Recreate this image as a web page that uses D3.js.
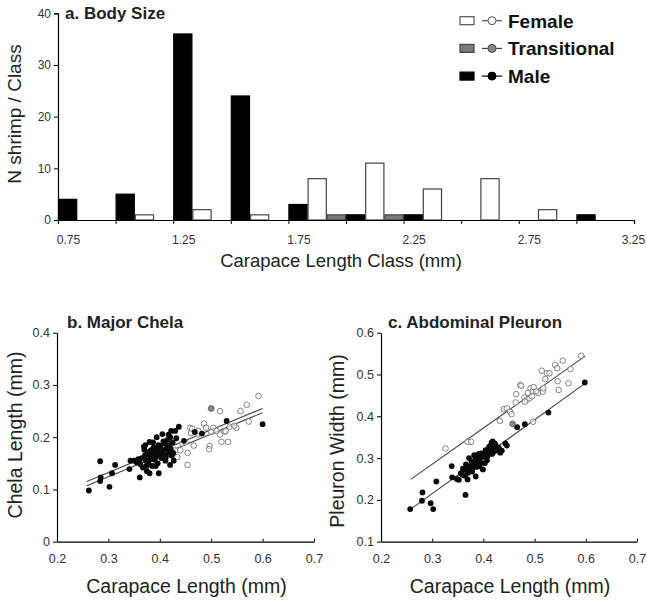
<!DOCTYPE html>
<html>
<head>
<meta charset="utf-8">
<script src="https://cdn.jsdelivr.net/npm/d3@7"></script>
<style>
  body { margin: 0; background: #fff; }
  svg { display: block; }
  text { font-family: "Liberation Sans", Arial, sans-serif; }
</style>
</head>
<body>
<svg id="chart" width="647" height="603"></svg>
<script>
// ---- data: a. body size histogram (N per carapace length class)
const classes = [0.75, 1.0, 1.25, 1.5, 1.75, 2.0, 2.25, 2.5, 2.75, 3.0];
const maleCounts = [4, 5, 36, 24, 3, 1, 1, 0, 0, 1];
const femaleCounts = [0, 1, 2, 1, 8, 11, 6, 8, 2, 0];
const transCounts = [0, 0, 0, 0, 1, 1, 0, 0, 0, 0];
const classTicks = [0.75, 1.0, 1.25, 1.5, 1.75, 2.0, 2.25, 2.5, 2.75, 3.0, 3.25];
const countTicks = [0, 10, 20, 30, 40];

// ---- data: b. major chela (carapace length, chela length)
const chelaMale = [
  [0.262,0.098],[0.284,0.154],[0.285,0.123],[0.284,0.116],[0.302,0.105],[0.307,0.131],[0.313,0.147],
  [0.341,0.139],[0.343,0.155],[0.35,0.155],[0.355,0.152],[0.358,0.158],[0.361,0.123],[0.362,0.148],
  [0.365,0.16],[0.367,0.142],[0.369,0.182],[0.37,0.176],[0.371,0.165],[0.373,0.155],[0.375,0.135],
  [0.376,0.17],[0.378,0.15],[0.38,0.191],[0.38,0.131],[0.381,0.162],[0.383,0.175],[0.385,0.145],
  [0.386,0.168],[0.388,0.18],[0.39,0.157],[0.391,0.172],[0.393,0.163],[0.395,0.178],[0.396,0.15],
  [0.398,0.131],[0.399,0.168],[0.401,0.183],[0.403,0.16],[0.405,0.206],[0.406,0.175],[0.408,0.165],
  [0.41,0.188],[0.411,0.155],[0.413,0.178],[0.415,0.195],[0.416,0.17],[0.418,0.185],[0.42,0.147],
  [0.42,0.2],[0.422,0.212],[0.423,0.165],[0.425,0.19],[0.427,0.155],[0.43,0.212],[0.432,0.198],
  [0.437,0.22],[0.447,0.193],[0.468,0.21],[0.482,0.207],[0.53,0.231],[0.6,0.225],
  [0.36,0.155],[0.368,0.16],[0.374,0.145],[0.379,0.172],[0.384,0.158],[0.387,0.19],[0.392,0.145],
  [0.397,0.185],[0.402,0.17],[0.407,0.192],[0.412,0.162],[0.417,0.205],[0.421,0.178],[0.426,0.17],
  [0.372,0.185],[0.394,0.2]
];
const chelaFemale = [
  [0.592,0.279],[0.569,0.262],[0.557,0.25],[0.517,0.25],[0.573,0.23],[0.549,0.218],[0.486,0.226],
  [0.49,0.218],[0.504,0.218],[0.459,0.218],[0.461,0.208],[0.474,0.205],[0.517,0.205],[0.526,0.21],
  [0.52,0.191],[0.533,0.191],[0.497,0.183],[0.496,0.177],[0.444,0.188],[0.466,0.184],[0.454,0.17],
  [0.434,0.162],[0.454,0.147],[0.536,0.22],[0.545,0.222],[0.475,0.212],[0.463,0.216],[0.51,0.212],
  [0.43,0.175],[0.44,0.175],[0.395,0.17],[0.385,0.165],[0.375,0.16],[0.415,0.18],[0.5,0.21],
  [0.528,0.212],[0.45,0.19]
];
const chelaTrans = [[0.5,0.255]];
const chelaFits = [
  [[0.258,0.115],[0.6,0.255]],
  [[0.258,0.107],[0.6,0.247]]
];

// ---- data: c. abdominal pleuron (carapace length, pleuron width)
const pleuronMale = [
  [0.257,0.178],[0.281,0.218],[0.28,0.198],[0.297,0.192],[0.302,0.178],[0.308,0.244],[0.338,0.281],
  [0.339,0.254],[0.348,0.25],[0.352,0.248],[0.356,0.264],[0.359,0.26],[0.362,0.272],[0.365,0.212],
  [0.367,0.279],[0.369,0.249],[0.37,0.265],[0.372,0.3],[0.375,0.273],[0.377,0.291],[0.38,0.283],
  [0.382,0.307],[0.385,0.256],[0.386,0.279],[0.388,0.291],[0.391,0.297],[0.391,0.31],[0.395,0.311],
  [0.396,0.288],[0.399,0.273],[0.401,0.303],[0.403,0.288],[0.404,0.319],[0.407,0.295],[0.411,0.327],
  [0.411,0.311],[0.416,0.337],[0.417,0.31],[0.419,0.323],[0.424,0.331],[0.427,0.318],[0.433,0.313],
  [0.443,0.335],[0.446,0.33],[0.466,0.374],[0.481,0.381],[0.527,0.409],[0.598,0.481],
  [0.36,0.275],[0.366,0.285],[0.371,0.268],[0.374,0.28],[0.378,0.268],[0.383,0.29],[0.387,0.3],
  [0.392,0.28],[0.394,0.3],[0.398,0.307],[0.405,0.31],[0.408,0.305],[0.41,0.318],[0.414,0.33],
  [0.418,0.34],[0.42,0.315],[0.422,0.335],[0.425,0.32],[0.43,0.325],[0.436,0.318],[0.379,0.277],
  [0.384,0.297],[0.364,0.258]
];
const pleuronFemale = [
  [0.591,0.545],[0.555,0.533],[0.54,0.523],[0.544,0.515],[0.514,0.509],[0.524,0.503],[0.529,0.503],
  [0.57,0.513],[0.521,0.489],[0.545,0.484],[0.566,0.479],[0.472,0.475],[0.474,0.473],[0.492,0.467],
  [0.495,0.459],[0.487,0.456],[0.507,0.456],[0.516,0.459],[0.517,0.467],[0.547,0.463],[0.464,0.453],
  [0.48,0.445],[0.485,0.44],[0.49,0.443],[0.495,0.448],[0.463,0.433],[0.481,0.435],[0.44,0.417],
  [0.446,0.419],[0.452,0.411],[0.455,0.405],[0.432,0.389],[0.497,0.387],[0.369,0.339],[0.376,0.339],
  [0.326,0.323],[0.503,0.46],[0.498,0.47]
];
const pleuronTrans = [[0.457,0.382]];
const pleuronFits = [
  [[0.258,0.249],[0.599,0.544]],
  [[0.258,0.178],[0.6,0.48]]
];
const carapaceTicks = [0.2, 0.3, 0.4, 0.5, 0.6, 0.7];

const svg = d3.select('#chart');
const tickColor = '#333';

// ================= a. Body Size =================
const xBand = d3.scaleBand().domain(classes).range([58, 634]).padding(0);
const xSeries = d3.scaleBand().domain(['Male', 'Female', 'Transitional']).range([0, xBand.bandwidth()]);
const xClass = d3.scaleLinear().domain([0.75, 3.25]).range([58, 634]);
const yCount = d3.scaleLinear().domain([0, 40]).range([220, 13.3]);

const seriesStyle = {
  Male: { fill: '#000', stroke: '#000' },
  Female: { fill: '#fff', stroke: '#444' },
  Transitional: { fill: '#7a7a7a', stroke: '#444' }
};

const barData = [];
classes.forEach((c, i) => {
  barData.push({ c, s: 'Male', v: maleCounts[i] });
  barData.push({ c, s: 'Female', v: femaleCounts[i] });
  barData.push({ c, s: 'Transitional', v: transCounts[i] });
});

const gA = svg.append('g');

gA.selectAll('.bar')
  .data(barData.filter((d) => d.v > 0))
  .enter()
  .append('rect')
  .attr('class', 'bar')
  .attr('x', (d) => xBand(d.c) + xSeries(d.s) + 0.5)
  .attr('y', (d) => yCount(d.v))
  .attr('width', xSeries.bandwidth() - 1)
  .attr('height', (d) => yCount(0) - yCount(d.v))
  .attr('fill', (d) => seriesStyle[d.s].fill)
  .attr('stroke', (d) => seriesStyle[d.s].stroke)
  .attr('stroke-width', 1.2);

const xAxisA = gA.append('g')
  .attr('transform', `translate(0,${yCount(0)})`)
  .call(d3.axisBottom(xClass).tickValues(classTicks).tickSize(4)
    .tickFormat((d) => (Math.round(d * 4) % 2 === 1 ? d.toFixed(2) : '')));
xAxisA.selectAll('text')
  .attr('dx', (d) => (d === 3.25 ? -1 : 10))
  .attr('dy', '1.4em');

const yAxisA = gA.append('g')
  .attr('transform', `translate(${xClass(0.75)},0)`)
  .call(d3.axisLeft(yCount).tickValues(countTicks).tickSize(4));

[xAxisA, yAxisA].forEach((ax) => {
  ax.select('.domain').attr('stroke', '#000').attr('stroke-width', 1.2);
  ax.selectAll('.tick line').attr('stroke', '#000');
  ax.selectAll('.tick text').attr('fill', tickColor).attr('font-size', '12px')
    .style('font-family', '"Liberation Sans", Arial, sans-serif');
});

gA.append('text')
  .attr('x', 65).attr('y', 19)
  .attr('font-size', '17px').attr('font-weight', 'bold').attr('fill', '#222')
  .text('a. Body Size');

gA.append('text')
  .attr('transform', 'translate(21,114) rotate(-90)')
  .attr('text-anchor', 'middle')
  .attr('font-size', '19px').attr('fill', '#222')
  .text('N shrimp / Class');

gA.append('text')
  .attr('x', 341).attr('y', 267)
  .attr('text-anchor', 'middle')
  .attr('font-size', '18.5px').attr('fill', '#222')
  .text('Carapace Length Class (mm)');

// legend
const legendRows = [
  { name: 'Female', box: '#fff', dot: '#fff', stroke: '#555' },
  { name: 'Transitional', box: '#7a7a7a', dot: '#888', stroke: '#444' },
  { name: 'Male', box: '#000', dot: '#000', stroke: '#000' }
];
const legend = gA.selectAll('.legend')
  .data(legendRows)
  .enter()
  .append('g')
  .attr('class', 'legend')
  .attr('transform', (d, i) => `translate(0,${20.7 + i * 27.7})`);
legend.append('rect')
  .attr('x', 460).attr('y', -4).attr('width', 14).attr('height', 8)
  .attr('fill', (d) => d.box).attr('stroke', (d) => d.stroke).attr('stroke-width', 1.2);
legend.append('line')
  .attr('x1', 482).attr('x2', 502).attr('y1', 0).attr('y2', 0)
  .attr('stroke', (d) => d.stroke).attr('stroke-width', 1.2);
legend.append('circle')
  .attr('cx', 492).attr('cy', 0).attr('r', 4)
  .attr('fill', (d) => d.dot).attr('stroke', (d) => d.stroke).attr('stroke-width', 1);
legend.append('text')
  .attr('x', 508).attr('y', 0).attr('dy', '0.36em')
  .attr('font-size', '19px').attr('font-weight', 'bold').attr('fill', '#111')
  .text((d) => d.name);

// ================= b & c scatter panels =================
function scatterPanel(o) {
  const g = svg.append('g');
  const x = d3.scaleLinear().domain([0.2, 0.7]).range(o.xRange);
  const y = d3.scaleLinear().domain(o.yDomain).range([541.7, 332.7]);

  const xAx = g.append('g')
    .attr('transform', `translate(0,${y(o.yDomain[0])})`)
    .call(d3.axisBottom(x).tickValues(carapaceTicks).tickSizeInner(-3).tickSizeOuter(0).tickPadding(12)
      .tickFormat(d3.format('.1f')));
  const yAx = g.append('g')
    .attr('transform', `translate(${x(0.2)},0)`)
    .call(d3.axisLeft(y).tickValues(o.yTicks).tickSize(4).tickSizeOuter(0)
      .tickFormat((d) => (d === 0 ? '0' : d.toFixed(1))));

  [xAx, yAx].forEach((ax) => {
    ax.select('.domain').attr('stroke', '#000').attr('stroke-width', 1.2);
    ax.selectAll('.tick line').attr('stroke', '#000');
    ax.selectAll('.tick text').attr('fill', tickColor).attr('font-size', '12.5px')
      .style('font-family', '"Liberation Sans", Arial, sans-serif');
  });

  g.selectAll('.fit')
    .data(o.fits)
    .enter()
    .append('line')
    .attr('class', 'fit')
    .attr('x1', (d) => x(d[0][0])).attr('y1', (d) => y(d[0][1]))
    .attr('x2', (d) => x(d[1][0])).attr('y2', (d) => y(d[1][1]))
    .attr('stroke', '#444').attr('stroke-width', 1.1);

  g.selectAll('.female')
    .data(o.female)
    .enter()
    .append('circle')
    .attr('class', 'female')
    .attr('cx', (d) => x(d[0])).attr('cy', (d) => y(d[1])).attr('r', 2.8)
    .attr('fill', '#fff').attr('fill-opacity', 0.6).attr('stroke', '#777').attr('stroke-width', 0.9);

  g.selectAll('.male')
    .data(o.male)
    .enter()
    .append('circle')
    .attr('class', 'male')
    .attr('cx', (d) => x(d[0])).attr('cy', (d) => y(d[1])).attr('r', 2.9)
    .attr('fill', '#0a0a0a');

  g.selectAll('.trans')
    .data(o.trans)
    .enter()
    .append('circle')
    .attr('class', 'trans')
    .attr('cx', (d) => x(d[0])).attr('cy', (d) => y(d[1])).attr('r', 2.9)
    .attr('fill', '#888').attr('stroke', '#555').attr('stroke-width', 0.8);

  g.append('text')
    .attr('x', o.titleX).attr('y', 328)
    .attr('font-size', '17px').attr('font-weight', 'bold').attr('fill', '#222')
    .text(o.title);

  g.append('text')
    .attr('transform', `translate(${o.yLabelX},${o.yLabelY}) rotate(-90)`)
    .attr('text-anchor', 'middle')
    .attr('font-size', '19.5px').attr('fill', '#222')
    .text(o.yLabel);

  g.append('text')
    .attr('x', (o.xRange[0] + o.xRange[1]) / 2 + 1).attr('y', 593)
    .attr('text-anchor', 'middle')
    .attr('font-size', '19.5px').attr('fill', '#222')
    .text('Carapace Length (mm)');
}

scatterPanel({
  xRange: [57, 314],
  yDomain: [0, 0.4],
  yTicks: [0, 0.1, 0.2, 0.3, 0.4],
  title: 'b. Major Chela', titleX: 67,
  yLabel: 'Chela Length (mm)', yLabelX: 22, yLabelY: 435,
  male: chelaMale, female: chelaFemale, trans: chelaTrans, fits: chelaFits
});

scatterPanel({
  xRange: [381, 637],
  yDomain: [0.1, 0.6],
  yTicks: [0.1, 0.2, 0.3, 0.4, 0.5, 0.6],
  title: 'c. Abdominal Pleuron', titleX: 388,
  yLabel: 'Pleuron Width (mm)', yLabelX: 344, yLabelY: 441,
  male: pleuronMale, female: pleuronFemale, trans: pleuronTrans, fits: pleuronFits
});
</script>
</body>
</html>
